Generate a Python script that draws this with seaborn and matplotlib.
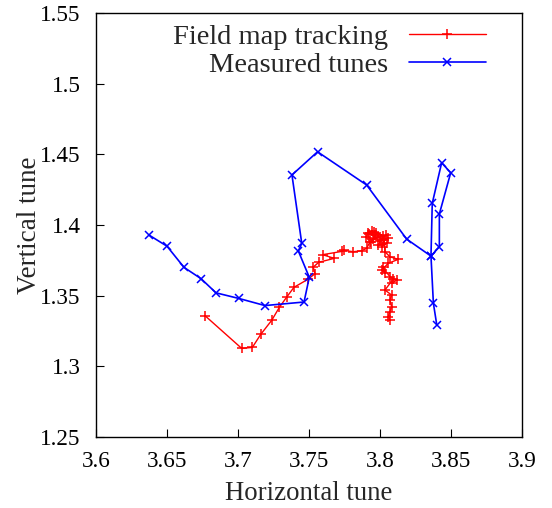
import matplotlib
matplotlib.use("Agg")
import matplotlib.pyplot as plt
import seaborn as sns
import pandas as pd

# Field map tracking (red)
fm_qx = [3.6768, 3.7026, 3.7101, 3.7160, 3.7237, 3.7291, 3.7343, 3.7394, 3.7491, 3.7542,
         3.7530, 3.7568, 3.7678, 3.7596, 3.7730, 3.7746, 3.7812, 3.7871, 3.7906, 3.7930,
         3.7900, 3.7918, 3.7942, 3.7925, 3.7965, 3.7950, 3.7988, 3.7935, 3.7975, 3.8023,
         3.7960, 3.8010, 3.8058, 3.8000, 3.8040, 3.7985, 3.8047, 3.8012, 3.8030, 3.8035,
         3.8070, 3.8129, 3.8058, 3.8012, 3.8035, 3.8020, 3.8070, 3.8118, 3.8082, 3.8095,
         3.8035, 3.8082, 3.8070, 3.8082, 3.8070, 3.8058, 3.8070]
fm_qy = [1.3358, 1.3127, 1.3134, 1.3226, 1.3325, 1.3417, 1.3490, 1.3559, 1.3615, 1.3655,
         1.3702, 1.3736, 1.3764, 1.3790, 1.3813, 1.3820, 1.3811, 1.3818, 1.3835, 1.3882,
         1.3915, 1.3941, 1.3959, 1.3935, 1.3929, 1.3900, 1.3917, 1.3880, 1.3945, 1.3922,
         1.3950, 1.3895, 1.3906, 1.3890, 1.3930, 1.3860, 1.3870, 1.3846, 1.3895, 1.3811,
         1.3775, 1.3757, 1.3729, 1.3681, 1.3658, 1.3700, 1.3634, 1.3610, 1.3587, 1.3620,
         1.3540, 1.3504, 1.3469, 1.3422, 1.3386, 1.3351, 1.3327]

# Measured tunes (blue)
ms_qx = [3.6373, 3.6500, 3.6620, 3.6740, 3.6845, 3.7007, 3.7190, 3.7465, 3.7502, 3.7425,
         3.7449, 3.7380, 3.7560, 3.7906, 3.8188, 3.8359, 3.8368, 3.8434, 3.8498, 3.8418,
         3.8418, 3.8359, 3.8376, 3.8400]
ms_qy = [1.3929, 1.3850, 1.3700, 1.3620, 1.3520, 1.3480, 1.3430, 1.3455, 1.3630, 1.3816,
         1.3870, 1.4354, 1.4518, 1.4283, 1.3900, 1.3780, 1.4153, 1.4440, 1.4370, 1.4078,
         1.3846, 1.3780, 1.3446, 1.3292]

x_ticks = [3.6, 3.65, 3.7, 3.75, 3.8, 3.85, 3.9]
y_ticks = [1.25, 1.3, 1.35, 1.4, 1.45, 1.5, 1.55]
x_ticklabels = ["3.6", "3.65", "3.7", "3.75", "3.8", "3.85", "3.9"]
y_ticklabels = ["1.25", "1.3", "1.35", "1.4", "1.45", "1.5", "1.55"]

sns.set_style("white")
plt.rcParams["font.family"] = ["Liberation Serif", "DejaVu Serif"]

fig = plt.figure(figsize=(5.52, 5.08), dpi=100)
ax = fig.add_axes([96/552, 1-437/508, (522-96)/552, (437-13)/508])

df_fm = pd.DataFrame({"qx": fm_qx, "qy": fm_qy})
df_ms = pd.DataFrame({"qx": ms_qx, "qy": ms_qy})

sns.lineplot(data=df_fm, x="qx", y="qy", sort=False, estimator=None, ax=ax,
             color="#ff0000", lw=1.0, marker="+", markersize=7.5, markeredgewidth=1.1,
             markeredgecolor="#ff0000", label="Field map tracking")
sns.lineplot(data=df_ms, x="qx", y="qy", sort=False, estimator=None, ax=ax,
             color="#0000ff", lw=1.2, marker="x", markersize=6, markeredgewidth=1.1,
             markeredgecolor="#0000ff", label="Measured tunes")

ax.set_xlim(3.6, 3.9)
ax.set_ylim(1.25, 1.55)
ax.set_xticks(x_ticks)
ax.set_xticklabels(x_ticklabels)
ax.set_yticks(y_ticks)
ax.set_yticklabels(y_ticklabels)
ax.tick_params(axis="x", pad=10)
ax.tick_params(axis="y", pad=11)
ax.tick_params(direction="in", length=6, width=0.8, labelsize=16.7, colors="black",
               top=False, right=False, bottom=True, left=True)
for s in ax.spines.values():
    s.set_color("black")
    s.set_linewidth(1.0)
ax.set_xlabel("Horizontal tune", fontsize=19.3, labelpad=6.5)
ax.set_ylabel("Vertical tune", fontsize=19.5, labelpad=-1)

leg = ax.legend(loc="upper right", bbox_to_anchor=(0.955, 1.0145), frameon=False,
                markerfirst=False, fontsize=20.5, handlelength=2.7, handletextpad=0.74,
                labelspacing=0.07, borderaxespad=0.2)

fig.savefig("out.png", dpi=100)
